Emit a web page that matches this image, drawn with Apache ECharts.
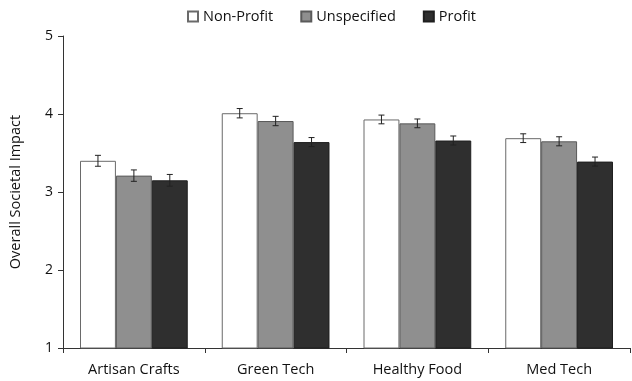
<!DOCTYPE html>
<html>
<head>
<meta charset="utf-8">
<script src="https://cdn.jsdelivr.net/npm/echarts@6/dist/echarts.min.js"></script>
<style>
  html, body { margin: 0; padding: 0; background: #fff; }
  #chart { width: 632px; height: 381px; }
</style>
</head>
<body>
<div id="chart"></div>
<script>
var categories = ['Artisan Crafts', 'Green Tech', 'Healthy Food', 'Med Tech'];
var seriesNames = ['Non-Profit', 'Unspecified', 'Profit'];
var nonProfit = [3.40, 4.01, 3.93, 3.69];
var unspecified = [3.21, 3.91, 3.88, 3.65];
var profit = [3.15, 3.64, 3.66, 3.39];
// standard errors (half height of the whiskers)
var nonProfitErr = [0.07, 0.06, 0.056, 0.056];
var unspecifiedErr = [0.073, 0.06, 0.056, 0.058];
var profitErr = [0.075, 0.058, 0.058, 0.058];
var yTicks = [1, 2, 3, 4, 5];

var fills = ['#ffffff', '#8f8f8f', '#2f2f2f'];
var borders = ['#6a6a6a', '#5a5a5a', '#1f1f1f'];
var catGap = 0.24;

var values = [nonProfit, unspecified, profit];
var errors = [nonProfitErr, unspecifiedErr, profitErr];

var chart = echarts.init(document.getElementById('chart'));

var series = [];
values.forEach(function (vals, i) {
    series.push({
        name: seriesNames[i],
        type: 'bar',
        data: vals,
        barGap: '0%',
        barCategoryGap: (catGap * 100) + '%',
        itemStyle: { color: fills[i], borderColor: borders[i], borderWidth: 1 }
    });
});

values.forEach(function (vals, i) {
    series.push({
        type: 'custom',
        silent: true,
        z: 5,
        data: vals.map(function (v, k) { return [k, v, errors[i][k]]; }),
        renderItem: function (params, api) {
            var k = api.value(0), v = api.value(1), e = api.value(2);
            var band = api.size([1, 0])[0];
            var bw = band * (1 - catGap) / 3;
            var top = api.coord([k, v + e]);
            var bot = api.coord([k, v - e]);
            var x = top[0] + (i - 1) * bw;
            var cap = 3;
            var style = { stroke: '#222', lineWidth: 1 };
            return {
                type: 'group',
                children: [
                    { type: 'line', shape: { x1: x, y1: top[1], x2: x, y2: bot[1] }, style: style },
                    { type: 'line', shape: { x1: x - cap, y1: top[1], x2: x + cap, y2: top[1] }, style: style },
                    { type: 'line', shape: { x1: x - cap, y1: bot[1], x2: x + cap, y2: bot[1] }, style: style }
                ]
            };
        }
    });
});

chart.setOption({
    animation: false,
    textStyle: { fontFamily: 'Open Sans' },
    legend: {
        data: seriesNames,
        top: 4,
        left: 182,
        itemWidth: 10,
        itemHeight: 10,
        itemGap: 27,
        textStyle: { fontSize: 14.5, color: '#111', fontFamily: 'Open Sans' },
        icon: 'rect'
    },
    grid: { left: 62, right: 2, top: 36, bottom: 33 },
    xAxis: {
        type: 'category',
        data: categories,
        axisLine: { lineStyle: { color: '#333' } },
        axisTick: { show: true, length: 5, lineStyle: { color: '#333' } },
        axisLabel: { color: '#111', fontSize: 14.5, margin: 14 }
    },
    yAxis: {
        type: 'value',
        min: yTicks[0],
        max: yTicks[yTicks.length - 1],
        interval: 1,
        name: 'Overall Societal Impact',
        nameLocation: 'middle',
        nameGap: 40,
        nameTextStyle: { fontSize: 14.5, color: '#111' },
        axisLine: { show: true, lineStyle: { color: '#333' } },
        axisTick: { show: true, length: 5, lineStyle: { color: '#333' } },
        axisLabel: { color: '#111', fontSize: 14, margin: 10 },
        splitLine: { show: false }
    },
    series: series
});
</script>
</body>
</html>
